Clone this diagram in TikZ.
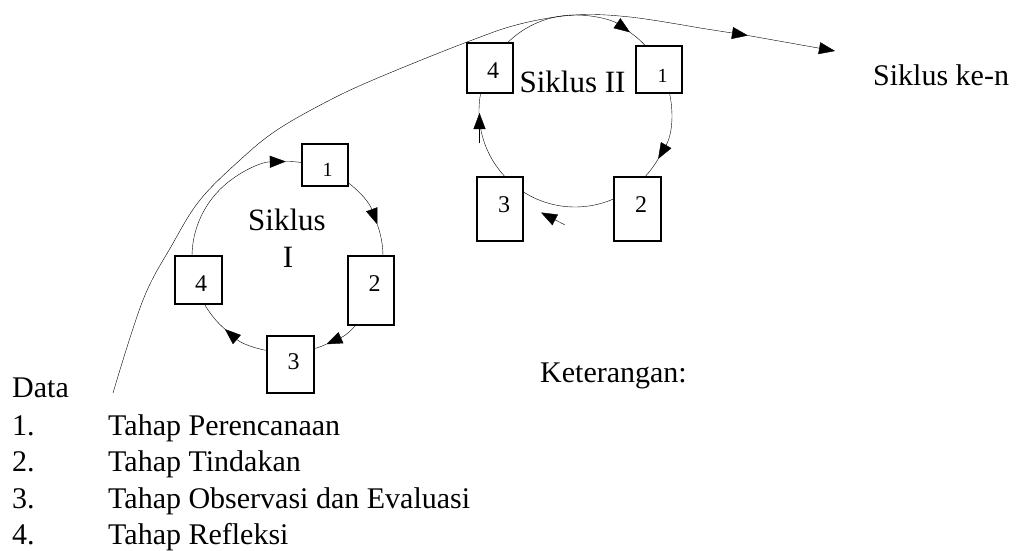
\documentclass[tikz,border=0pt]{standalone}
\usepackage{fontspec}
\setmainfont{Liberation Serif}
\usetikzlibrary{arrows.meta,calc}
\pgfdeclarelayer{bg}
\pgfsetlayers{bg,main}

\begin{document}
\begin{tikzpicture}[x=1pt,y=1pt,
  line width=1.8pt,
  headed/.style={-{Triangle[length=16pt,width=12pt]}},
  stage/.style={draw, fill=white, line width=1.8pt, inner sep=0pt},
  digit/.style={font=\fontsize{24}{24}\selectfont, inner sep=0pt},
  digitsm/.style={font=\fontsize{20}{20}\selectfont, inner sep=0pt},
  txt/.style={font=\fontsize{30}{36}\selectfont, inner sep=0pt, anchor=base west},
  lbl/.style={font=\fontsize{31}{36}\selectfont, inner sep=0pt, anchor=base},
]
\useasboundingbox (0,0) rectangle (1020,-551);

% centres and radii of the two cycles
\coordinate (cI) at (287.5,-257);
\coordinate (cII) at (575,-111);
\def\rI{95.5}
\def\rII{96}

% ---- Siklus I: stage boxes
\node[stage, minimum width=46pt, minimum height=42pt] (s11) at (325,-165) {};
\node[stage, minimum width=46pt, minimum height=69pt] (s12) at (371,-290.5) {};
\node[stage, minimum width=47pt, minimum height=57pt] (s13) at (290.5,-364.5) {};
\node[stage, minimum width=47pt, minimum height=48pt] (s14) at (198.5,-280) {};
\node[digitsm] (n11) at (327.5,-170) {1};
\node[digit] (n12) at (374.5,-284) {2};
\node[digit] (n13) at (293.5,-362) {3};
\node[digit] (n14) at (201,-284) {4};
\node[lbl] (tI) at (287,-230) {Siklus};
\node[lbl] (tIb) at (288,-267) {I};

% ---- Siklus II: stage boxes
\node[stage, minimum width=46pt, minimum height=47pt] (s21) at (659,-69.5) {};
\node[stage, minimum width=47pt, minimum height=64pt] (s22) at (637.5,-209) {};
\node[stage, minimum width=46pt, minimum height=64pt] (s23) at (500,-209) {};
\node[stage, minimum width=46pt, minimum height=50pt] (s24) at (490,-68) {};
\node[digitsm] (n21) at (662.5,-76) {1};
\node[digit] (n22) at (641,-205) {2};
\node[digit] (n23) at (504,-205) {3};
\node[digit] (n24) at (493,-71) {4};
\node[lbl] (tII) at (572.5,-92.5) {Siklus II};

% ---- the cycle arcs, behind the boxes
\begin{pgfonlayer}{bg}
  \draw[headed] ($(cI)+(194:\rI)$) arc[start angle=194, end angle=91, radius=\rI];
  \draw ($(cI)+(91:\rI)$) arc[start angle=91, end angle=68, radius=\rI];
  \draw[headed] ($(cI)+(68:\rI)$) arc[start angle=68, end angle=20, radius=\rI];
  \draw ($(cI)+(20:\rI)$) arc[start angle=20, end angle=-21, radius=\rI];
  \draw[headed] ($(cI)+(-21:\rI)$) arc[start angle=-21, end angle=-66, radius=\rI];
  \draw ($(cI)+(-66:\rI)$) arc[start angle=-66, end angle=-89, radius=\rI];
  \draw[headed] ($(cI)+(-89:\rI)$) arc[start angle=-89, end angle=-131, radius=\rI];
  \draw ($(cI)+(-131:\rI)$) arc[start angle=-131, end angle=-166, radius=\rI];

  \draw[headed] ($(cII)+(153:\rII)$) arc[start angle=153, end angle=55, radius=\rII];
  \draw ($(cII)+(55:\rII)$) arc[start angle=55, end angle=26, radius=\rII];
  \draw[headed] ($(cII)+(26:\rII)$) arc[start angle=26, end angle=-30, radius=\rII];
  \draw ($(cII)+(-30:\rII)$) arc[start angle=-30, end angle=-57.5, radius=\rII];
  \draw ($(cII)+(-57.5:\rII)$) arc[start angle=-57.5, end angle=-127.4, radius=\rII];
  \draw ($(cII)+(232.6:\rII)$) arc[start angle=232.6, end angle=153, radius=\rII];
\end{pgfonlayer}

% short loose arrows of Siklus II
\coordinate (up0) at (479.5,-143);
\coordinate (up1) at (479.5,-113);
\draw[headed] (up0) -- (up1);
\coordinate (lf0) at (565,-225);
\coordinate (lf1) at (541,-212.5);
\draw[headed] (lf0) -- (lf1);

% the long path from the data towards the next cycles
\coordinate (pstart) at (113,-393);
\coordinate (pbend) at (700,-28);
\coordinate (pmid) at (748,-35.5);
\coordinate (pend) at (835,-51);
\draw plot[smooth, tension=0.6] coordinates {(pstart) (143,-300) (172,-245) (200,-200) (240,-160) (277,-130) (330,-100) (380,-77) (467,-42) (520,-24) (575,-15) (630,-17) (pbend)};
\draw[headed] (pbend) -- (pmid);
\draw[headed] (pmid) -- (pend);
\node[txt] (ken) at (873,-85) {Siklus ke-n};

% ---- texts
\node[txt] (data) at (12,-397) {Data};
\node[txt] (ket) at (540,-382) {Keterangan:};
\node[txt] (i1) at (12,-435) {1.};
\node[txt] (l1) at (108,-435) {Tahap Perencanaan};
\node[txt] (i2) at (12,-471.5) {2.};
\node[txt] (l2) at (108,-471.5) {Tahap Tindakan};
\node[txt] (i3) at (12,-508) {3.};
\node[txt] (l3) at (108,-508) {Tahap Observasi dan Evaluasi};
\node[txt] (i4) at (12,-544.5) {4.};
\node[txt] (l4) at (108,-544.5) {Tahap Refleksi};
\end{tikzpicture}
\end{document}
